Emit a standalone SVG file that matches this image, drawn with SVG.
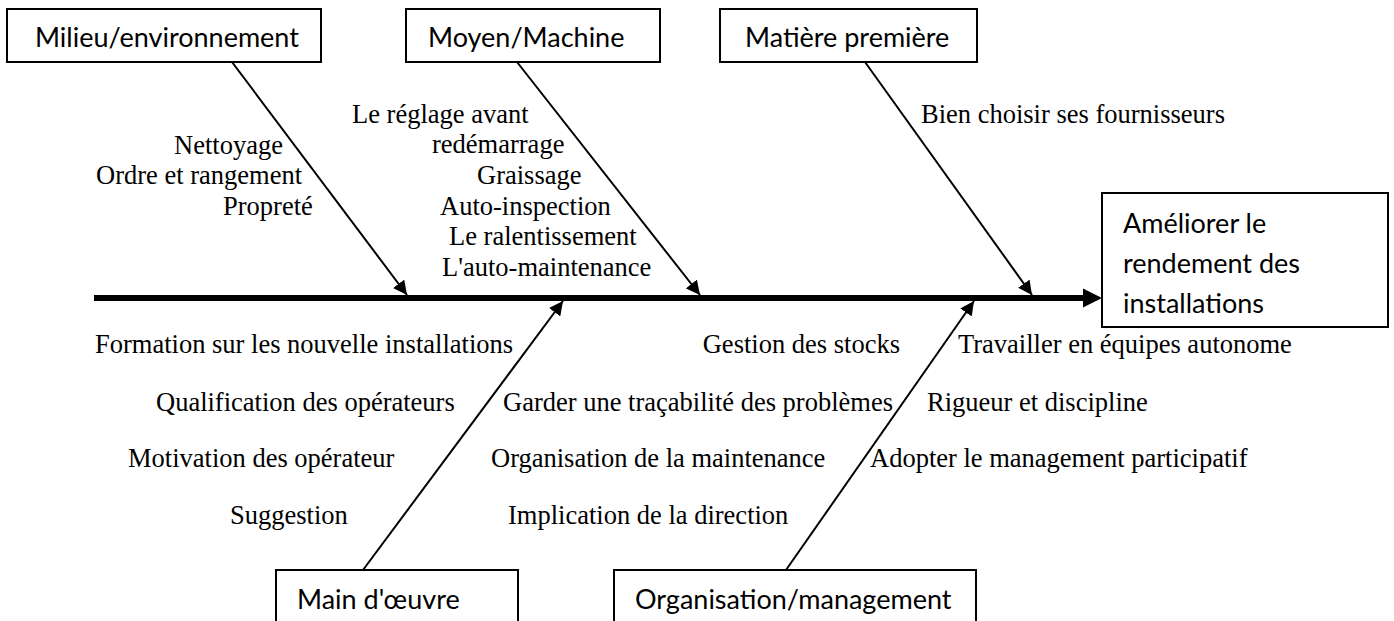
<svg xmlns="http://www.w3.org/2000/svg" width="1394" height="621" viewBox="0 0 1394 621">
  <style>
    .box { fill: #ffffff; stroke: #000000; stroke-width: 2; }
    .cat { font-family: Lato, "Open Sans", sans-serif; font-size: 27px; fill: #000000; }
    .cause { font-family: "Liberation Serif", "Times New Roman", serif; font-size: 26.5px; fill: #000000; }
    .bone { stroke: #000000; stroke-width: 2; fill: none; marker-end: url(#tip); }
    .spine { stroke: #000000; stroke-width: 6; fill: none; }
  </style>
  <defs>
    <marker id="tip" viewBox="0 0 10 10" refX="10" refY="5" markerWidth="7" markerHeight="7" markerUnits="strokeWidth" orient="auto">
      <path d="M0,0 L10,5 L0,10 Z" fill="#000000"/>
    </marker>
  </defs>

  <rect width="1394" height="621" fill="#ffffff"/>

  <!-- connectors: spine and category bones -->
  <g id="connectors">
    <line class="spine" x1="94" y1="298" x2="1086" y2="298"/>
    <polygon points="1083,288.5 1102,298 1083,307.5" fill="#000000"/>
    <line class="bone" x1="232" y1="62" x2="407" y2="295"/>
    <line class="bone" x1="517" y1="62" x2="700" y2="295"/>
    <line class="bone" x1="865" y1="62" x2="1032" y2="295"/>
    <line class="bone" x1="363" y1="570" x2="563" y2="301"/>
    <line class="bone" x1="786" y1="570" x2="974" y2="301"/>
  </g>

  <!-- categories -->
  <g id="milieu">
    <rect class="box" x="7" y="9" width="314" height="53"/>
    <text class="cat" x="35" y="47">Milieu/environnement</text>
    <text class="cause" x="283" y="154" text-anchor="end">Nettoyage</text>
    <text class="cause" x="96" y="184">Ordre et rangement</text>
    <text class="cause" x="223" y="215">Propreté</text>
  </g>

  <g id="moyen">
    <rect class="box" x="406" y="9" width="254" height="53"/>
    <text class="cat" x="428" y="47">Moyen/Machine</text>
    <text class="cause" x="352" y="123">Le réglage avant</text>
    <text class="cause" x="432" y="153">redémarrage</text>
    <text class="cause" x="477" y="184">Graissage</text>
    <text class="cause" x="440" y="215">Auto-inspection</text>
    <text class="cause" x="449" y="245">Le ralentissement</text>
    <text class="cause" x="442" y="276">L'auto-maintenance</text>
  </g>

  <g id="matiere">
    <rect class="box" x="720" y="9" width="257" height="53"/>
    <text class="cat" x="745" y="47">Matière première</text>
    <text class="cause" x="921" y="123">Bien choisir ses fournisseurs</text>
  </g>

  <g id="effet">
    <rect class="box" x="1102" y="193" width="286" height="134"/>
    <text class="cat" x="1123" y="233">Améliorer le</text>
    <text class="cat" x="1123" y="273">rendement des</text>
    <text class="cat" x="1123" y="313">installations</text>
  </g>

  <g id="main-oeuvre">
    <rect class="box" x="276" y="570" width="242" height="60"/>
    <text class="cat" x="297" y="609">Main d'œuvre</text>
    <text class="cause" x="95" y="353">Formation sur les nouvelle installations</text>
    <text class="cause" x="156" y="411">Qualification des opérateurs</text>
    <text class="cause" x="128" y="467">Motivation des opérateur</text>
    <text class="cause" x="230" y="524">Suggestion</text>
  </g>

  <g id="organisation">
    <rect class="box" x="614" y="570" width="362" height="60"/>
    <text class="cat" x="635" y="609">Organisation/management</text>
    <text class="cause" x="900" y="353" text-anchor="end">Gestion des stocks</text>
    <text class="cause" x="893" y="411" text-anchor="end">Garder une traçabilité des problèmes</text>
    <text class="cause" x="491" y="467">Organisation de la maintenance</text>
    <text class="cause" x="508" y="524">Implication de la direction</text>
    <text class="cause" x="958" y="353">Travailler en équipes autonome</text>
    <text class="cause" x="927" y="411">Rigueur et discipline</text>
    <text class="cause" x="870" y="467">Adopter le management participatif</text>
  </g>
</svg>
